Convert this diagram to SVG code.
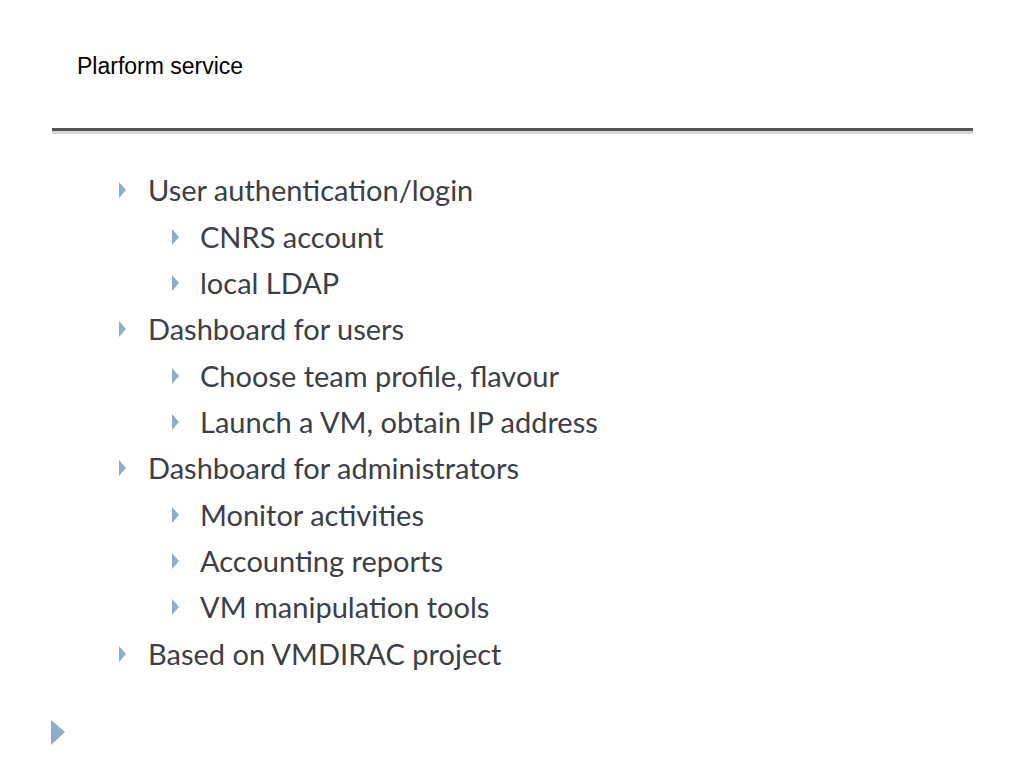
<svg xmlns="http://www.w3.org/2000/svg" width="1024" height="768" viewBox="0 0 1024 768">
<style>
.t{font-family:"Lato","Open Sans",sans-serif;font-size:29px;fill:#3b4047}
.b{fill:#8fadc8}
</style>
<rect width="1024" height="768" fill="#fff"/>
<text x="77" y="74" font-family="Liberation Sans,Arial,sans-serif" font-size="23" fill="#000">Plarform service</text>
<rect x="52" y="128" width="921" height="3" fill="#555"/>
<rect x="52" y="131" width="921" height="3" fill="#bbb" opacity="0.6"/>
<g id="bullets">
<g class="b">
<path d="M119 182 L126 190 L119 198Z"/>
<path d="M172 229 L179 237 L172 245Z"/>
<path d="M172 275 L179 283 L172 291Z"/>
<path d="M119 321 L126 329 L119 337Z"/>
<path d="M172 368 L179 376 L172 384Z"/>
<path d="M172 414 L179 422 L172 430Z"/>
<path d="M119 460 L126 468 L119 476Z"/>
<path d="M172 507 L179 515 L172 523Z"/>
<path d="M172 553 L179 561 L172 569Z"/>
<path d="M172 599 L179 607 L172 615Z"/>
<path d="M119 646 L126 654 L119 662Z"/>
</g>
<text class="t" x="148" y="201">User authentication/login</text>
<text class="t" x="200" y="248">CNRS account</text>
<text class="t" x="200" y="294">local LDAP</text>
<text class="t" x="148" y="340">Dashboard for users</text>
<text class="t" x="200" y="387">Choose team profile, flavour</text>
<text class="t" x="200" y="433">Launch a VM, obtain IP address</text>
<text class="t" x="148" y="479">Dashboard for administrators</text>
<text class="t" x="200" y="526">Monitor activities</text>
<text class="t" x="200" y="572">Accounting reports</text>
<text class="t" x="200" y="618">VM manipulation tools</text>
<text class="t" x="148" y="665">Based on VMDIRAC project</text>
</g>
<path d="M51 720 L65 732 L51 745Z" fill="#8fadc8"/>
</svg>
